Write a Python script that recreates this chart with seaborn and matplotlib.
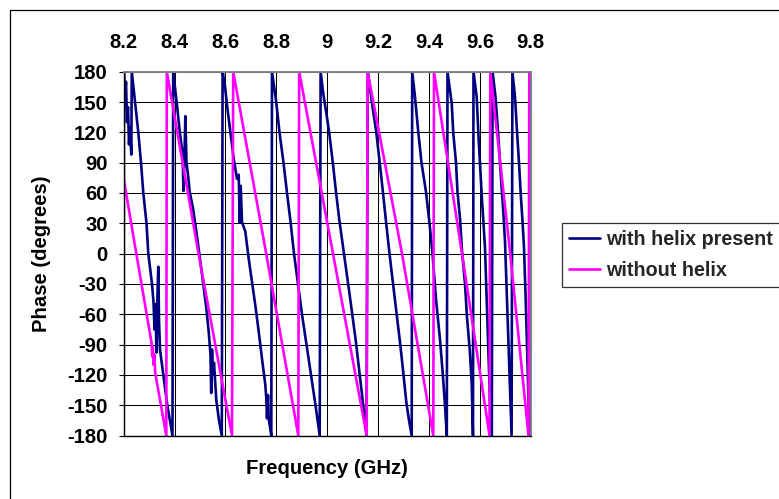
import matplotlib
matplotlib.use("Agg")
import matplotlib.pyplot as plt
import pandas as pd
import seaborn as sns
from matplotlib.lines import Line2D

# Measured phase (degrees) versus frequency (GHz), listed as polyline vertices.
helix_freq = [
    8.2000, 8.2008, 8.2051, 8.2090, 8.2130, 8.2169, 8.2208, 8.2248, 8.2299, 8.2318,
    8.2444, 8.2574, 8.2680, 8.2771, 8.2896, 8.2967, 8.3113, 8.3172, 8.3211, 8.3250,
    8.3289, 8.3329, 8.3360, 8.3388, 8.3427, 8.3584, 8.3714, 8.3918, 8.3946, 8.4005,
    8.4107, 8.4201, 8.4312, 8.4351, 8.4390, 8.4422, 8.4469, 8.4528, 8.4595, 8.4724,
    8.4854, 8.4972, 8.5117, 8.5247, 8.5341, 8.5412, 8.5440, 8.5471, 8.5511, 8.5550,
    8.5640, 8.5746, 8.5856, 8.5888, 8.5971, 8.6061, 8.6191, 8.6324, 8.6454, 8.6521,
    8.6560, 8.6600, 8.6651, 8.6780, 8.6914, 8.7044, 8.7173, 8.7307, 8.7437, 8.7567,
    8.7606, 8.7633, 8.7673, 8.7700, 8.7802, 8.7830, 8.7987, 8.8125, 8.8282, 8.8420,
    8.8557, 8.8695, 8.8852, 8.9009, 8.9186, 8.9363, 8.9540, 8.9705, 8.9741, 8.9847,
    8.9972, 9.0082, 9.0216, 9.0346, 9.0483, 9.0660, 9.0818, 9.0975, 9.1132, 9.1270,
    9.1407, 9.1545, 9.1596, 9.1789, 9.1930, 9.2060, 9.2190, 9.2319, 9.2449, 9.2579,
    9.2716, 9.2850, 9.2980, 9.3110, 9.3216, 9.3322, 9.3342, 9.3452, 9.3581, 9.3707,
    9.3884, 9.4022, 9.4140, 9.4277, 9.4434, 9.4552, 9.4631, 9.4702, 9.4729, 9.4894,
    9.4957, 9.5063, 9.5122, 9.5220, 9.5299, 9.5417, 9.5496, 9.5606, 9.5680, 9.5731,
    9.5751, 9.5877, 9.5940, 9.6007, 9.6074, 9.6137, 9.6203, 9.6262, 9.6321, 9.6380,
    9.6432, 9.6471, 9.6502, 9.6616, 9.6715, 9.6793, 9.6872, 9.6931, 9.6990, 9.7049,
    9.7108, 9.7167, 9.7214, 9.7249, 9.7281, 9.7383, 9.7462, 9.7540, 9.7611, 9.7678,
    9.7737, 9.7796, 9.7855, 9.7902, 9.7941, 9.8000,
]
helix_phase = [
    -180, 180, 155, 170, 130, 145, 108, 125, 98, 180,
    150, 120, 90, 60, 30, 0, -30, -48, -75, -50,
    -98, -40, -13, -65, -95, -125, -150, -180, 180, 167,
    144, 121, 100, 62, 95, 136, 90, 78, 61, 45,
    22, 0, -28, -54, -77, -100, -138, -95, -120, -108,
    -145, -165, -180, 180, 168, 147, 121, 94, 74, 78,
    31, 67, 31, 22, -5, -28, -51, -77, -104, -130,
    -143, -163, -140, -163, -180, 180, 152, 120, 90, 60,
    32, 0, -30, -60, -90, -120, -150, -180, 180, 158,
    138, 119, 91, 61, 32, 0, -29, -58, -88, -118,
    -148, -180, 180, 144, 120, 91, 61, 30, 0, -28,
    -57, -85, -115, -147, -165, -180, 180, 155, 120, 90,
    61, 30, 0, -45, -85, -122, -150, -180, 180, 149,
    119, 90, 61, 35, 3, -30, -63, -96, -128, -180,
    180, 155, 120, 89, 58, 33, 6, -40, -85, -130,
    -165, -180, 180, 155, 121, 90, 61, 38, 12, -30,
    -75, -120, -155, -180, 180, 155, 121, 90, 58, 32,
    6, -40, -90, -135, -180, -88,
]

plain_freq = [
    8.2000, 8.2495, 8.3093, 8.3124, 8.3144, 8.3175, 8.3203, 8.3238, 8.3675, 8.3694,
    8.4941, 8.6257, 8.6305, 8.7602, 8.8864, 8.8899, 9.0228, 9.1553, 9.1588, 9.2941,
    9.4171, 9.4198, 9.5299, 9.6381, 9.6412, 9.7186, 9.7913, 9.7945, 9.8000,
]
plain_phase = [
    74, 0, -88, -102, -92, -110, -100, -118, -180, 180,
    0, -180, 180, 0, -180, 180, 0, -180, 180, 0,
    -180, 180, 0, -180, 180, 2, -180, 180, 137,
]

series_names = ["with helix present", "without helix"]
series_colors = ["#000080", "#FF00FF"]

freq_ticks = [8.2, 8.4, 8.6, 8.8, 9.0, 9.2, 9.4, 9.6, 9.8]
freq_tick_labels = ["8.2", "8.4", "8.6", "8.8", "9", "9.2", "9.4", "9.6", "9.8"]
phase_ticks = [-180, -150, -120, -90, -60, -30, 0, 30, 60, 90, 120, 150, 180]

sns.set_theme(style="white")
plt.rcParams["font.family"] = ["Liberation Sans", "DejaVu Sans"]
plt.rcParams["font.weight"] = "bold"
plt.rcParams["axes.labelweight"] = "bold"

FS = 14.6
LEG_FS = 14.2

df = pd.concat(
    [
        pd.DataFrame({"Frequency": helix_freq, "Phase": helix_phase, "series": series_names[0]}),
        pd.DataFrame({"Frequency": plain_freq, "Phase": plain_phase, "series": series_names[1]}),
    ],
    ignore_index=True,
)

W, H = 779, 499
fig = plt.figure(figsize=(W / 100, H / 100), dpi=100)
fig.patch.set_facecolor("white")

left, right, top, bottom = 123.7, 530.7, 71.7, 435.5
ax = fig.add_axes([left / W, 1 - bottom / H, (right - left) / W, (bottom - top) / H])

palette = dict(zip(series_names, series_colors))
sns.lineplot(
    data=df, x="Frequency", y="Phase", hue="series", palette=palette,
    sort=False, estimator=None, errorbar=None, linewidth=1.9, ax=ax, legend=False,
)

ax.set_xlim(8.2, 9.8)
ax.set_ylim(-180, 180)
ax.set_xticks(freq_ticks)
ax.set_xticklabels(freq_tick_labels)
ax.set_yticks(phase_ticks)
ax.set_yticklabels([str(v) for v in phase_ticks])

ax.set_axisbelow(True)
ax.grid(True, which="major", axis="both", color="black", linewidth=0.75)

for side in ("top", "right"):
    ax.spines[side].set_color("#808080")
    ax.spines[side].set_linewidth(1.4)
for side in ("left", "bottom"):
    ax.spines[side].set_color("black")
    ax.spines[side].set_linewidth(1.0)

ax.tick_params(axis="y", left=True, direction="out", length=3.6, width=0.8,
               color="black", pad=8.0, labelsize=FS, labelcolor="black")
ax.tick_params(axis="x", bottom=False, top=False, labelbottom=False, labeltop=True,
               pad=8.4, labelsize=FS, labelcolor="black")

ax.set_xlabel("Frequency (GHz)", fontsize=FS, fontweight="bold", color="black", va="center")
ax.xaxis.set_label_coords(0.5, (bottom - 468) / (bottom - top))
ax.set_ylabel("Phase (degrees)", fontsize=FS, fontweight="bold", color="black", va="center")
ax.yaxis.set_label_coords((42 - left) / (right - left), 0.5)

handles = [Line2D([], [], color=c, linewidth=1.9) for c in series_colors]
leg = fig.legend(
    handles, series_names, loc="upper left",
    bbox_to_anchor=(562.3 / W, 1 - 222.7 / H), bbox_transform=fig.transFigure,
    prop={"size": LEG_FS, "weight": "bold"}, frameon=True, fancybox=False, shadow=False,
    borderaxespad=0, borderpad=0.36, labelspacing=0.62, handlelength=1.55,
    handletextpad=0.3,
)
leg.get_frame().set_edgecolor("black")
leg.get_frame().set_linewidth(0.9)
leg.get_frame().set_facecolor("white")

# Chart-area frame (left and top edges fall inside the canvas)
fig.add_artist(Line2D([10 / W, 10 / W], [0, 1 - 10 / H], color="black", linewidth=0.9,
                      transform=fig.transFigure))
fig.add_artist(Line2D([10 / W, 1], [1 - 10 / H, 1 - 10 / H], color="black", linewidth=0.9,
                      transform=fig.transFigure))

fig.savefig("out.png", dpi=100, facecolor="white")
